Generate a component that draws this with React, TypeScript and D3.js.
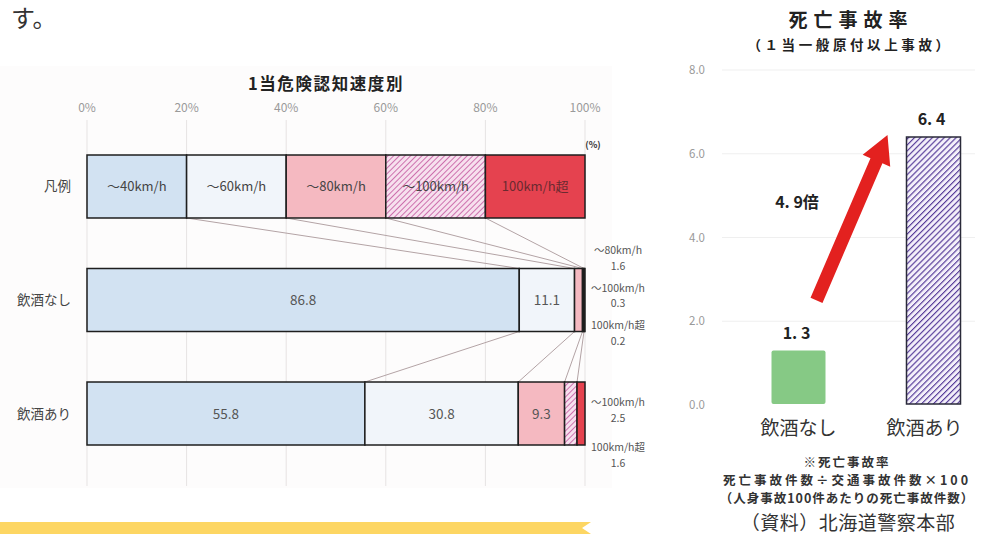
import React from "react";
import * as d3 from "d3";

// Share of accidents by speed at hazard recognition (%)
const speedBands = ["〜40km/h", "〜60km/h", "〜80km/h", "〜100km/h", "100km/h超"];
const legendShares = [20, 20, 20, 20, 20];
const noDrinkShares = [86.8, 11.1, 1.6, 0.3, 0.2];
const drinkShares = [55.8, 30.8, 9.3, 2.5, 1.6];
const rowLabels = ["凡例", "飲酒なし", "飲酒あり"];
const percentTicks = [0, 20, 40, 60, 80, 100];

// Fatality rate (deaths per 100 injury accidents)
const rateCategories = ["飲酒なし", "飲酒あり"];
const fatalityRates = [1.3, 6.4];
const rateTicks = [0, 2, 4, 6, 8];
const footnoteLines = [
  "※死亡事故率",
  "死亡事故件数÷交通事故件数×100",
  "（人身事故100件あたりの死亡事故件数）",
];

const JP = "'Noto Sans CJK JP', 'Noto Sans', sans-serif";
const bandFills = ["#d2e2f2", "#f1f5fa", "#f5b9c1", "url(#hatchPink)", "#e5424f"];

function cumulative(values: number[]) {
  const out = [0];
  values.forEach((v) => out.push(out[out.length - 1] + v));
  return out;
}

export default function App() {
  // ---------- left: stacked 100% bars ----------
  const x = d3.scaleLinear().domain([0, 100]).range([87, 585]);
  const rowScale = d3.scaleBand<string>().domain(rowLabels).range([155, 445]).paddingInner(0.445);
  const rows = [legendShares, noDrinkShares, drinkShares];
  const cums = rows.map(cumulative);
  const bh = rowScale.bandwidth();

  // ---------- right: fatality rate bars ----------
  const y = d3.scaleLinear().domain([0, 8]).range([405, 70]);
  const xr = d3.scaleBand<string>().domain(rateCategories).range([731, 1001]).paddingInner(0.6).paddingOuter(0.3);
  const rbw = 54;
  const xc = (c: string) => (xr(c) as number) + xr.bandwidth() / 2;

  // arrow between the two bars
  const a0: [number, number] = [xc(rateCategories[0]) + 18, y(2.5)];
  const a1: [number, number] = [xc(rateCategories[1]) - 46, y(fatalityRates[1]) - 2];
  const dx = a1[0] - a0[0];
  const dy = a1[1] - a0[1];
  const len = Math.hypot(dx, dy);
  const ux = dx / len, uy = dy / len;
  const nx = -uy, ny = ux;
  const sw = 6.5, hw = 15, hl = 28;
  const neck: [number, number] = [a1[0] - ux * hl, a1[1] - uy * hl];
  const arrowPts: [number, number][] = [
    [a0[0] + nx * sw, a0[1] + ny * sw],
    [neck[0] + nx * sw, neck[1] + ny * sw],
    [neck[0] + nx * hw, neck[1] + ny * hw],
    a1,
    [neck[0] - nx * hw, neck[1] - ny * hw],
    [neck[0] - nx * sw, neck[1] - ny * sw],
    [a0[0] - nx * sw, a0[1] - ny * sw],
  ];
  const ratio = (fatalityRates[1] / fatalityRates[0]).toFixed(1).replace(".", ". ");
  const fmtRate = (v: number) => v.toFixed(1).replace(".", ". ");

  // small-share labels to the right of the bars
  const sideLayout: Record<number, { start: number; step: number }> = {
    1: { start: 250, step: 37.5 },
    2: { start: 402, step: 45 },
  };

  return (
    <svg
      width={990}
      height={534}
      style={{ position: "absolute", left: 0, top: 0, background: "#fff" }}
      fontFamily={JP}
    >
      <defs>
        <pattern id="hatchPink" width="4" height="4" patternUnits="userSpaceOnUse" patternTransform="rotate(45)">
          <rect width="4" height="4" fill="#f7e0ee" />
          <line x1="0" y1="0" x2="0" y2="4" stroke="#c2559e" strokeWidth="1.6" />
        </pattern>
        <pattern id="hatchPurple" width="4.2" height="4.2" patternUnits="userSpaceOnUse" patternTransform="rotate(45)">
          <rect width="4.2" height="4.2" fill="#f4f0fa" />
          <line x1="0" y1="0" x2="0" y2="4.2" stroke="#553a98" strokeWidth="2.3" />
        </pattern>
      </defs>

      {/* trailing sentence fragment */}
      <text x={11} y={27} fontSize={24} fill="#333">す。</text>

      {/* ===== left chart ===== */}
      <rect x={0} y={66} width={612} height={422} fill="#fdfcfc" />
      <text x={326} y={90} textAnchor="middle" fontSize={16.5} fontWeight={700} letterSpacing={1.6} fill="#222">
        1当危険認知速度別
      </text>
      {percentTicks.map((t) => (
        <g key={t}>
          <line x1={x(t)} x2={x(t)} y1={120} y2={486} stroke="#e6e3e3" strokeWidth={1} />
          <text x={x(t)} y={112} textAnchor="middle" fontSize={12} fill="#9a9a9a">{t}%</text>
        </g>
      ))}
      <text x={593} y={148} textAnchor="middle" fontSize={9} fontWeight={700} fill="#333">(%)</text>

      {/* connectors between consecutive rows */}
      {rows.slice(1).map((_, r) => {
        const upper = rowLabels[r];
        const lower = rowLabels[r + 1];
        const y0 = (rowScale(upper) as number) + bh;
        const y1 = rowScale(lower) as number;
        return cums[r].slice(1, -1).map((c, i) => (
          <line
            key={`${r}-${i}`}
            x1={x(c)}
            y1={y0}
            x2={x(cums[r + 1][i + 1])}
            y2={y1}
            stroke="#b3a3a5"
            strokeWidth={1}
          />
        ));
      })}

      {rows.map((shares, r) => {
        const top = rowScale(rowLabels[r]) as number;
        const cum = cums[r];
        return (
          <g key={r}>
            <text x={71} y={top + bh / 2 + 5} textAnchor="end" fontSize={13.5} fill="#444">
              {rowLabels[r]}
            </text>
            {shares.map((s, i) => (
              <rect
                key={i}
                x={x(cum[i])}
                y={top}
                width={x(cum[i + 1]) - x(cum[i])}
                height={bh}
                fill={bandFills[i]}
                stroke="#1e1e1e"
                strokeWidth={1.5}
              />
            ))}
            {shares.map((s, i) => {
              const cx = (x(cum[i]) + x(cum[i + 1])) / 2;
              if (r === 0) {
                return (
                  <text key={`t${i}`} x={cx} y={top + bh / 2 + 5} textAnchor="middle" fontSize={13}
                    fill={i === 4 ? "#6a2a30" : "#444"}>
                    {speedBands[i]}
                  </text>
                );
              }
              if (s >= 5) {
                return (
                  <text key={`t${i}`} x={cx} y={top + bh / 2 + 5} textAnchor="middle" fontSize={13.5} fill="#555">
                    {s.toFixed(1)}
                  </text>
                );
              }
              return null;
            })}
            {r > 0 &&
              shares
                .map((s, i) => ({ s, i }))
                .filter((d) => d.s < 5)
                .map((d, k) => {
                  const ly = sideLayout[r].start + k * sideLayout[r].step;
                  return (
                    <g key={`s${d.i}`} fontSize={10.5} fill="#555" textAnchor="middle">
                      <text x={618} y={ly + 4}>{speedBands[d.i]}</text>
                      <text x={618} y={ly + 19.5}>{d.s.toFixed(1)}</text>
                    </g>
                  );
                })}
          </g>
        );
      })}

      {/* yellow ribbon */}
      <polygon points="0,522 591,522 582,528 591,534 0,534" fill="#fdd663" />

      {/* ===== right chart ===== */}
      <text x={851} y={27} textAnchor="middle" fontSize={19} fontWeight={700} letterSpacing={6} fill="#222">
        死亡事故率
      </text>
      <text x={850} y={50} textAnchor="middle" fontSize={13.5} fontWeight={700} letterSpacing={3.6} fill="#222">
        （１当一般原付以上事故）
      </text>
      {rateTicks.map((t) => (
        <g key={t}>
          {t > 0 && <line x1={722} x2={975} y1={y(t)} y2={y(t)} stroke="#efefef" strokeWidth={1} />}
          <text x={697} y={y(t) + 4} textAnchor="middle" fontSize={11.5} fill="#9a9a9a">
            {t.toFixed(1)}
          </text>
        </g>
      ))}
      {rateCategories.map((c, i) => {
        const cx = xc(c);
        const v = fatalityRates[i];
        return (
          <g key={c}>
            <rect
              x={cx - rbw / 2}
              y={y(v)}
              width={rbw}
              height={y(0) - y(v) - 1}
              fill={i === 0 ? "#86c985" : "url(#hatchPurple)"}
              stroke={i === 0 ? "none" : "#2a2a3a"}
              strokeWidth={1.5}
              rx={i === 0 ? 2 : 0}
            />
            <text x={cx - 2} y={y(v) - 12} textAnchor="middle" fontSize={16} fontWeight={700} fill="#222">
              {fmtRate(v)}
            </text>
            <text x={cx + (i === 0 ? 0 : -9)} y={435} textAnchor="middle" fontSize={19} fill="#333">
              {c}
            </text>
          </g>
        );
      })}
      <polygon points={arrowPts.map((p) => p.join(",")).join(" ")} fill="#e3211f" />
      <text x={797} y={208} textAnchor="middle" fontSize={16} fontWeight={700} fill="#222">
        {ratio}倍
      </text>

      {footnoteLines.map((line, i) => (
        <text
          key={i}
          x={847}
          y={467 + i * 18}
          textAnchor="middle"
          fontSize={12.5}
          fontWeight={700}
          letterSpacing={i === 2 ? 1 : i === 1 ? 3 : 2}
          fill="#333"
        >
          {line}
        </text>
      ))}
      <text x={848} y={530} textAnchor="middle" fontSize={19} letterSpacing={0.5} fill="#333">
        （資料）北海道警察本部
      </text>
    </svg>
  );
}
